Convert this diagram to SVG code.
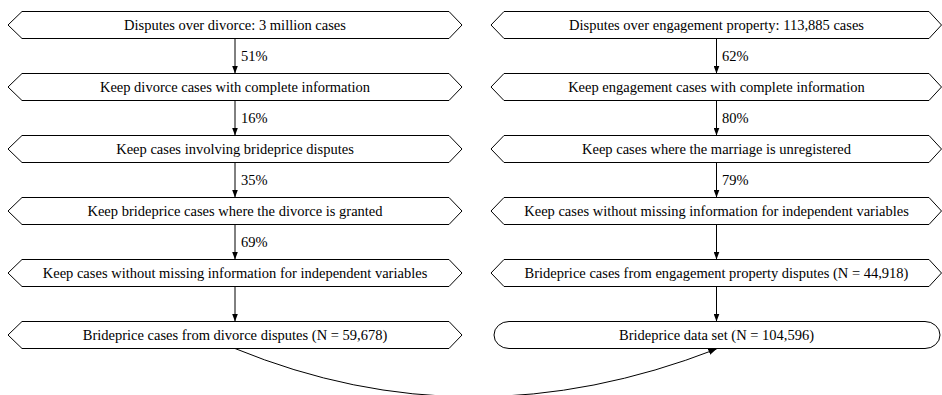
<svg xmlns="http://www.w3.org/2000/svg" width="942" height="395" viewBox="0 0 942 395">
<style>
.n{fill:#fff;stroke:#000;stroke-width:1}
text{font-family:'Liberation Serif','Times New Roman','DejaVu Serif',serif;font-size:14.5px;fill:#000}
.c{text-anchor:middle}
.e{fill:none;stroke:#000;stroke-width:1}
</style>
<defs>
<marker id="ah" markerWidth="8" markerHeight="6" refX="8" refY="3" orient="auto" markerUnits="userSpaceOnUse">
<path d="M0,0 L8,3 L0,6 Z" fill="#000"/>
</marker>
</defs>
<rect width="942" height="395" fill="#fff"/>
<g id="connectors">
<line class="e" x1="235" y1="38.5" x2="235" y2="73.5" marker-end="url(#ah)"/>
<line class="e" x1="235" y1="100.5" x2="235" y2="135.5" marker-end="url(#ah)"/>
<line class="e" x1="235" y1="162.5" x2="235" y2="197.5" marker-end="url(#ah)"/>
<line class="e" x1="235" y1="224.5" x2="235" y2="259.5" marker-end="url(#ah)"/>
<line class="e" x1="235" y1="286.5" x2="235" y2="321.5" marker-end="url(#ah)"/>
<line class="e" x1="716.5" y1="38.5" x2="716.5" y2="73.5" marker-end="url(#ah)"/>
<line class="e" x1="716.5" y1="100.5" x2="716.5" y2="135.5" marker-end="url(#ah)"/>
<line class="e" x1="716.5" y1="162.5" x2="716.5" y2="197.5" marker-end="url(#ah)"/>
<line class="e" x1="716.5" y1="224.5" x2="716.5" y2="259.5" marker-end="url(#ah)"/>
<line class="e" x1="716.5" y1="286.5" x2="716.5" y2="321.5" marker-end="url(#ah)"/>
<path class="e" d="M235,348.5 Q470,445 716.5,349" marker-end="url(#ah)"/>
<text x="241" y="61">51%</text>
<text x="241" y="123">16%</text>
<text x="241" y="185">35%</text>
<text x="241" y="247">69%</text>
<text x="722" y="61">62%</text>
<text x="722" y="123">80%</text>
<text x="722" y="185">79%</text>
</g>
<g id="L1"><polygon class="n" points="8,25 22,11.5 449,11.5 462,25 449,38.5 22,38.5"/><text class="c" x="235" y="30">Disputes over divorce: 3 million cases</text></g>
<g id="L2"><polygon class="n" points="8,87 22,73.5 449,73.5 462,87 449,100.5 22,100.5"/><text class="c" x="235" y="92">Keep divorce cases with complete information</text></g>
<g id="L3"><polygon class="n" points="8,149 22,135.5 449,135.5 462,149 449,162.5 22,162.5"/><text class="c" x="235" y="154">Keep cases involving brideprice disputes</text></g>
<g id="L4"><polygon class="n" points="8,211 22,197.5 449,197.5 462,211 449,224.5 22,224.5"/><text class="c" x="235" y="216">Keep brideprice cases where the divorce is granted</text></g>
<g id="L5"><polygon class="n" points="8,273 22,259.5 449,259.5 462,273 449,286.5 22,286.5"/><text class="c" x="235" y="278">Keep cases without missing information for independent variables</text></g>
<g id="L6"><polygon class="n" points="8,335 22,321.5 449,321.5 462,335 449,348.5 22,348.5"/><text class="c" x="235" y="340">Brideprice cases from divorce disputes (N = 59,678)</text></g>
<g id="R1"><polygon class="n" points="491,25 504,11.5 929,11.5 941.5,25 929,38.5 504,38.5"/><text class="c" x="716.5" y="30">Disputes over engagement property: 113,885 cases</text></g>
<g id="R2"><polygon class="n" points="491,87 504,73.5 929,73.5 941.5,87 929,100.5 504,100.5"/><text class="c" x="716.5" y="92">Keep engagement cases with complete information</text></g>
<g id="R3"><polygon class="n" points="491,149 504,135.5 929,135.5 941.5,149 929,162.5 504,162.5"/><text class="c" x="716.5" y="154">Keep cases where the marriage is unregistered</text></g>
<g id="R4"><polygon class="n" points="491,211 504,197.5 929,197.5 941.5,211 929,224.5 504,224.5"/><text class="c" x="716.5" y="216">Keep cases without missing information for independent variables</text></g>
<g id="R5"><polygon class="n" points="491,273 504,259.5 929,259.5 941.5,273 929,286.5 504,286.5"/><text class="c" x="716.5" y="278">Brideprice cases from engagement property disputes (N = 44,918)</text></g>
<g id="R6"><path class="n" d="M509,321.5 H925 A15,13.5 0 0 1 925,348.5 H509 A15,13.5 0 0 1 509,321.5 Z"/><text class="c" x="716.5" y="340">Brideprice data set (N = 104,596)</text></g>
</svg>
